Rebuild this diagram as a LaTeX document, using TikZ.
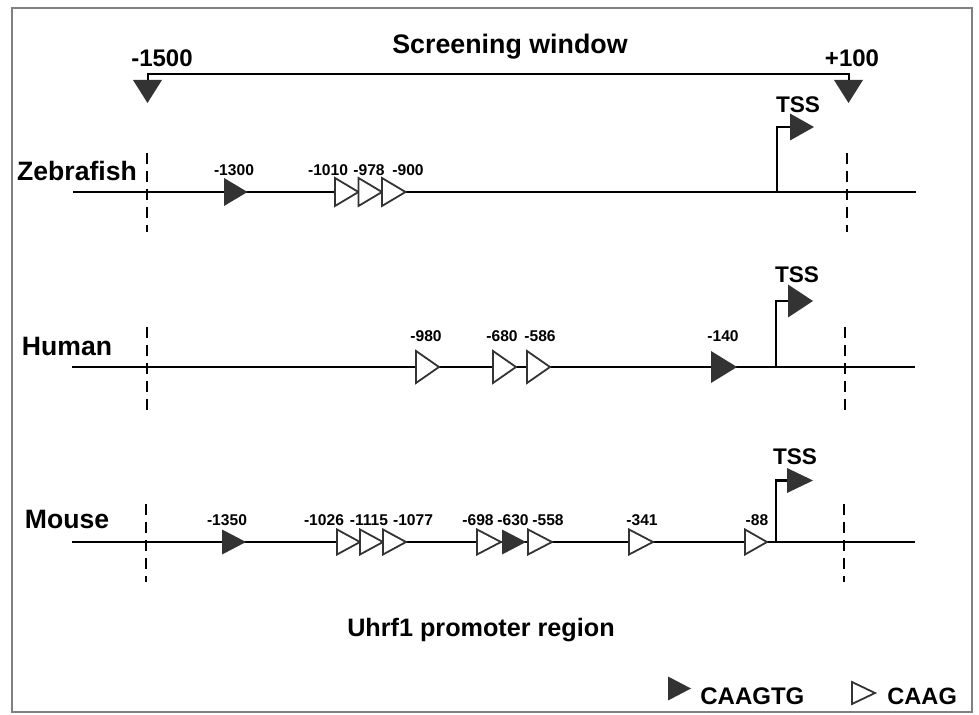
\documentclass[tikz,border=0pt]{standalone}
\usepackage{fontspec}
\setmainfont{Liberation Sans}
\definecolor{tri}{HTML}{333333}
\definecolor{framegray}{HTML}{808080}
\tikzset{
  dna/.style={line width=1.25pt, black},
  bracket/.style={line width=1pt, black},
  cut/.style={line width=1pt, black, dash pattern=on 5.5pt off 3.5pt},
  poslab/.style={font=\fontsize{7.8}{9}\selectfont\bfseries, anchor=base, inner sep=0pt},
  species/.style={font=\fontsize{13.3}{16}\selectfont\bfseries, anchor=base, inner sep=0pt},
  tsslab/.style={font=\fontsize{11.3}{13}\selectfont\bfseries, anchor=base, inner sep=0pt},
  bigtext/.style={font=\fontsize{13.4}{16}\selectfont\bfseries, anchor=base, inner sep=0pt},
  legtext/.style={font=\fontsize{12}{14}\selectfont\bfseries, anchor=base west, inner sep=0pt},
  pics/caagtg/.style={code={\fill[tri] (0,-1) -- (1,0) -- (0,1) -- cycle;}},
  pics/caag/.style={code={\draw[tri, fill=white, line width=0.9pt, line join=miter] (0,-1) -- (1,0) -- (0,1) -- cycle;}},
  zf/.style={xscale=23.5, yscale=14},
  hu/.style={xscale=23, yscale=16},
  mo/.style={xscale=24, yscale=12.5},
}
\begin{document}
\begin{tikzpicture}[x=0.5pt, y=-0.5pt]
\useasboundingbox (0,0) rectangle (979,715);
\draw[framegray, line width=1pt] (12,8) rectangle (972,712);

% Screening window
\node[bigtext] (sw) at (510,54) {Screening window};
\node[bigtext, font=\fontsize{12}{14}\selectfont\bfseries] (m1500) at (162,67) {-1500};
\node[bigtext, font=\fontsize{12}{14}\selectfont\bfseries] (p100) at (852,67) {+100};
\coordinate (bl) at (147.5,80);
\coordinate (br) at (848.5,80);
\draw[bracket] (bl) -- ++(0,-6) -| (br);
\fill[tri] (133,80) -- (162,80) -- (147.5,103) -- cycle;
\fill[tri] (834,80) -- (863,80) -- (848.5,103) -- cycle;

% ---------------- Zebrafish ----------------
\node[species] (zebra) at (77,181) {Zebrafish};
\coordinate (zs) at (73,192);
\coordinate (ze) at (916,192);
\draw[dna] (zs) -- (ze);
\draw[cut] (147,153) -- (147,232);
\draw[cut] (847,153) -- (847,232);
\pic[zf] at (224,192) {caagtg};
\pic[zf] at (335,192) {caag};
\pic[zf] at (358.5,192) {caag};
\pic[zf] at (382,192) {caag};
\node[poslab] (z1) at (234,176) {-1300};
\node[poslab] (z2) at (328,176) {-1010};
\node[poslab] (z3) at (369,176) {-978};
\node[poslab] (z4) at (408,176) {-900};
\coordinate (ztss) at (777,192);
\coordinate (ztip) at (790,127);
\draw[dna, line width=1.1pt] (ztss) |- (ztip);
\pic[xscale=24, yscale=13.5] at (ztip) {caagtg};
\node[tsslab] (zt) at (798,113) {TSS};

% ---------------- Human ----------------
\node[species] (human) at (67,356) {Human};
\coordinate (hs) at (72,367);
\coordinate (he) at (915,367);
\draw[dna] (hs) -- (he);
\draw[cut] (147,327) -- (147,410);
\draw[cut] (845,327) -- (845,410);
\pic[hu] at (416,367) {caag};
\pic[hu] at (493,367) {caag};
\pic[hu] at (527,367) {caag};
\pic[hu, xscale=26/23] at (711,367) {caagtg};
\node[poslab] (h1) at (426,342) {-980};
\node[poslab] (h2) at (502,342) {-680};
\node[poslab] (h3) at (540,342) {-586};
\node[poslab] (h4) at (723,342) {-140};
\coordinate (htss) at (776,367);
\coordinate (htip) at (788,301);
\draw[dna, line width=1.1pt] (htss) |- (htip);
\pic[xscale=25, yscale=16.5] at (htip) {caagtg};
\node[tsslab] (ht) at (797,283) {TSS};

% ---------------- Mouse ----------------
\node[species] (mouse) at (67,529) {Mouse};
\coordinate (ms) at (72,542);
\coordinate (me) at (915,542);
\draw[dna] (ms) -- (me);
\draw[cut] (146,504) -- (146,582);
\draw[cut] (844,504) -- (844,582);
\pic[mo] at (222,542) {caagtg};
\pic[mo, xscale=23/24] at (337,542) {caag};
\pic[mo, xscale=23/24] at (360,542) {caag};
\pic[mo, xscale=23/24] at (383,542) {caag};
\pic[mo] at (477,542) {caag};
\pic[mo] at (502,542) {caagtg};
\pic[mo] at (528,542) {caag};
\pic[mo] at (629,542) {caag};
\pic[mo, xscale=22/24] at (745,542) {caag};
\node[poslab] (m1) at (227,525) {-1350};
\node[poslab] (m2) at (324,525) {-1026};
\node[poslab] (m3) at (369,525) {-1115};
\node[poslab] (m4) at (413,525) {-1077};
\node[poslab] (m5) at (478,525) {-698};
\node[poslab] (m6) at (513,525) {-630};
\node[poslab] (m7) at (548,525) {-558};
\node[poslab] (m8) at (642,525) {-341};
\node[poslab] (m9) at (757,525) {-88};
\coordinate (mtss) at (776,542);
\coordinate (mtip) at (787,480.5);
\draw[dna, line width=1.1pt] (mtss) |- (mtip);
\pic[xscale=26, yscale=12.5] at (mtip) {caagtg};
\node[tsslab] (mt) at (795,465) {TSS};

% caption
\node[bigtext, font=\fontsize{12.6}{15}\selectfont\bfseries] (cap) at (481,636) {Uhrf1 promoter region};

% legend
\pic[xscale=23, yscale=12] at (668,688.5) {caagtg};
\node[legtext] (l1) at (700,704) {CAAGTG};
\pic[xscale=23, yscale=11] at (852,693) {caag};
\node[legtext, font=\fontsize{11.8}{14}\selectfont\bfseries] (l2) at (887,704) {CAAG};
\end{tikzpicture}
\end{document}
